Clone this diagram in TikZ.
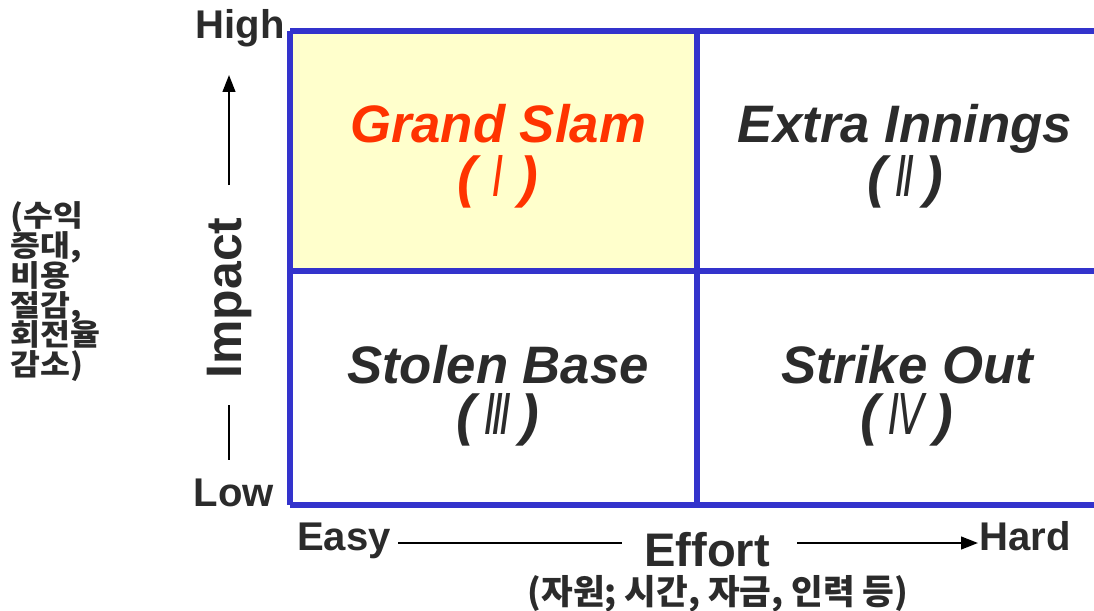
\documentclass[tikz,border=0pt]{standalone}
\usepackage{fontspec}
\usetikzlibrary{arrows.meta}
\setmainfont{Liberation Sans}
\newfontfamily\kofont{Noto Sans CJK KR}
\newfontfamily\kowide[FakeStretch=1.1]{Noto Sans CJK KR}
\newfontfamily\romfont[FakeStretch=0.7]{DejaVu Sans}
\newcommand{\romnum}[1]{{\mdseries\romfont\itshape #1}}
\newcommand{\tightlines}{\lineskiplimit -20pt\relax}
\definecolor{gridblue}{HTML}{3333CC}
\definecolor{slamyellow}{HTML}{FFFFCC}
\definecolor{slamred}{HTML}{FF3300}
\definecolor{inkgray}{HTML}{2B2B2B}

\begin{document}
\begin{tikzpicture}[x=0.025cm, y=-0.025cm,
    axislabel/.style={font=\fontsize{28.5}{30}\selectfont\bfseries, text=inkgray, inner sep=0pt, anchor=base},
    boxtitle/.style={font=\fontsize{37.5}{40}\selectfont\bfseries\itshape, text=inkgray, inner sep=0pt, anchor=base},
    boxnum/.style={font=\fontsize{40}{40}\selectfont\bfseries\itshape, text=inkgray, inner sep=0pt, anchor=base},
    kolabel/.style={font=\fontsize{24.5}{26}\kofont\bfseries, text=inkgray, inner sep=0pt},
    kostack/.style={font=\fontsize{21}{21.3}\kowide\bfseries\tightlines, text=inkgray, inner sep=0pt},
    gridline/.style={gridblue, line width=3.6pt},
    axisline/.style={black, line width=1.4pt}]
    \useasboundingbox (0,0) rectangle (1094,611);
    % Quadrant grid
    \fill[slamyellow] (290,31) rectangle (697,271);
    \draw[gridline] (290,31) -- (1094,31);
    \draw[gridline] (290,271) -- (1094,271);
    \draw[gridline] (290,505) -- (1094,505);
    \draw[gridline] (290,31) -- (290,505);
    \draw[gridline] (697,31) -- (697,505);
    % Quadrant labels
    \node[boxtitle, text=slamred] (slam) at (498,143) {Grand Slam};
    \node[boxnum, text=slamred] (slamnum) at (498,197) {( \romnum{Ⅰ} )};
    \node[boxtitle] (extra) at (905,143) {Extra Innings};
    \node[boxnum] (extranum) at (905,197) {(\,\romnum{Ⅱ}\,)};
    \node[boxtitle] (stolen) at (498,383) {Stolen Base};
    \node[boxnum] (stolennum) at (498,434) {(\,\romnum{Ⅲ}\,)};
    \node[boxtitle] (strike) at (907,383) {Strike Out};
    \node[boxnum] (strikenum) at (907,434) {(\,\romnum{Ⅳ}\,)};
    % Impact axis
    \node[axislabel] (high) at (240,39) {High};
    \node[axislabel] (low) at (234,506) {Low};
    \node[axislabel, font=\fontsize{35.5}{36}\selectfont\bfseries, rotate=90, anchor=center] (impact) at (230,298) {Impact};
    \coordinate (upfrom) at (229,185);
    \coordinate (upto) at (229,75);
    \coordinate (downfrom) at (229,405);
    \coordinate (downto) at (229,460);
    \draw[axisline, -{Triangle[length=12pt,width=9pt]}] (upfrom) -- (upto);
    \draw[axisline] (downfrom) -- (downto);
    \node[kostack, anchor=north west, align=left] (gain) at (10,201)
        {(수익\\증대,\\비용\\절감,\\회전율\\감소)};
    % Effort axis
    \node[axislabel] (easy) at (344,550) {Easy};
    \node[axislabel] (hard) at (1025,550) {Hard};
    \node[axislabel, font=\fontsize{33.5}{36}\selectfont\bfseries] (effort) at (707,566) {Effort};
    \node[kolabel, anchor=base] (cost) at (718,604) {(자원; 시간, 자금, 인력 등)};
    \coordinate (leftfrom) at (398,543);
    \coordinate (leftto) at (622,543);
    \coordinate (rightfrom) at (797,543);
    \coordinate (rightto) at (978,543);
    \draw[axisline] (leftfrom) -- (leftto);
    \draw[axisline, -{Triangle[length=12pt,width=9pt]}] (rightfrom) -- (rightto);
\end{tikzpicture}
\end{document}
